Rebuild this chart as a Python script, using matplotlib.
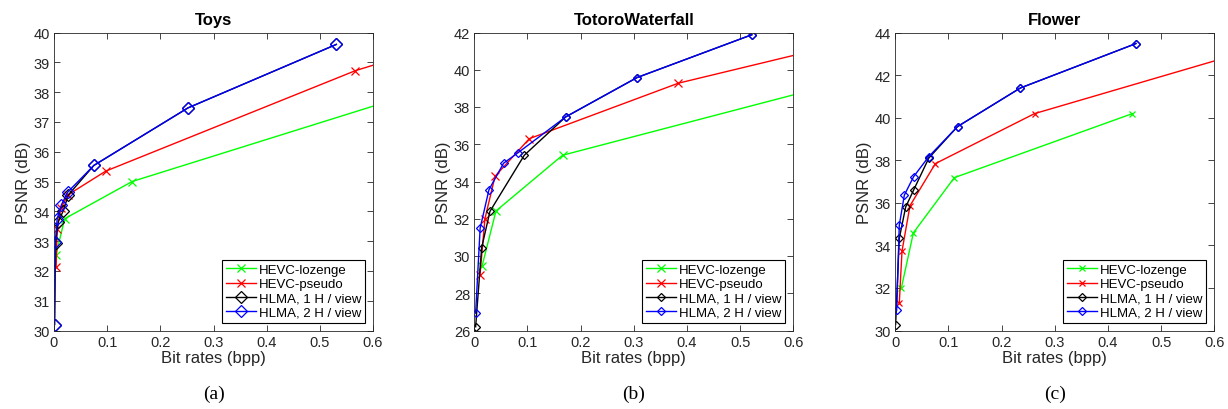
import matplotlib
matplotlib.use("Agg")
import matplotlib.pyplot as plt
import numpy as np
from matplotlib.ticker import FuncFormatter, MultipleLocator

plt.rcParams['font.family'] = ['Liberation Sans', 'DejaVu Sans']

series_names = ["HEVC-lozenge", "HEVC-pseudo", "HLMA, 1 H / view", "HLMA, 2 H / view"]
series_colors = ["#00ff00", "#ff0000", "#000000", "#0000ff"]
series_markers = ["x", "x", "D", "D"]

titles = ["Toys", "TotoroWaterfall", "Flower"]
captions = ["(a)", "(b)", "(c)"]

# Toys
toys_loz_x = [0.004, 0.02, 0.147, 0.9]
toys_loz_y = [32.55, 33.75, 35.0, 39.2]
toys_pse_x = [0.004, 0.006, 0.013, 0.026, 0.0975, 0.567, 1.0]
toys_pse_y = [32.13, 33.42, 34.1, 34.55, 35.35, 38.72, 41.1]
toys_h1_x = [0.001, 0.003, 0.008, 0.017, 0.027, 0.075, 0.252, 0.531]
toys_h1_y = [30.2, 32.95, 33.65, 34.0, 34.55, 35.54, 37.47, 39.6]
toys_h2_x = [0.001, 0.0025, 0.006, 0.014, 0.026, 0.075, 0.252, 0.531]
toys_h2_y = [30.2, 32.97, 33.75, 34.22, 34.65, 35.54, 37.47, 39.6]

# TotoroWaterfall
toto_loz_x = [0.0144, 0.0408, 0.166, 0.75]
toto_loz_y = [29.44, 32.42, 35.41, 39.77]
toto_pse_x = [0.0107, 0.02, 0.039, 0.1035, 0.384, 0.75]
toto_pse_y = [28.99, 32.0, 34.28, 36.3, 39.28, 41.8]
toto_h1_x = [0.0025, 0.0138, 0.0295, 0.094, 0.172, 0.306, 0.522]
toto_h1_y = [26.2, 30.44, 32.4, 35.41, 37.47, 39.58, 41.88]
toto_h2_x = [0.0025, 0.011, 0.0276, 0.055, 0.0815, 0.172, 0.306, 0.522]
toto_h2_y = [26.93, 31.5, 33.56, 34.98, 35.53, 37.47, 39.58, 41.88]

# Flower
flow_loz_x = [0.0113, 0.034, 0.111, 0.446]
flow_loz_y = [31.99, 34.59, 37.18, 40.19]
flow_pse_x = [0.0075, 0.0126, 0.0276, 0.0753, 0.262, 0.75]
flow_pse_y = [31.29, 33.73, 35.86, 37.84, 40.19, 43.76]
flow_h1_x = [0.0006, 0.0075, 0.0195, 0.0345, 0.063, 0.117, 0.235, 0.4526]
flow_h1_y = [30.28, 34.33, 35.8, 36.6, 38.1, 39.58, 41.39, 43.48]
flow_h2_x = [0.0025, 0.0075, 0.017, 0.0345, 0.063, 0.117, 0.235, 0.4526]
flow_h2_y = [30.94, 34.95, 36.36, 37.23, 38.17, 39.58, 41.39, 43.48]

panels = [
    [(toys_loz_x, toys_loz_y), (toys_pse_x, toys_pse_y), (toys_h1_x, toys_h1_y), (toys_h2_x, toys_h2_y)],
    [(toto_loz_x, toto_loz_y), (toto_pse_x, toto_pse_y), (toto_h1_x, toto_h1_y), (toto_h2_x, toto_h2_y)],
    [(flow_loz_x, flow_loz_y), (flow_pse_x, flow_pse_y), (flow_h1_x, flow_h1_y), (flow_h2_x, flow_h2_y)],
]
ylims = [(30, 40), (26, 42), (30, 44)]
ysteps = [1, 2, 2]
diamond_sizes = [6, 4.5, 4.5]
cross_sizes = [6, 5.5, 4.5]

fig = plt.figure(figsize=(12.28, 4.10), dpi=100)
lefts = [54 / 1228, 474.3 / 1228, 895.3 / 1228]
width = 319 / 1228
bottom = 1 - 331.5 / 410
height = 298 / 410

tick_col = "#262626"
for i in range(3):
    ax = fig.add_axes([lefts[i], bottom, width, height])
    for j in range(4):
        xs, ys = panels[i][j]
        ms = diamond_sizes[i] if series_markers[j] == "D" else cross_sizes[i]
        ax.plot(xs, ys, color=series_colors[j], marker=series_markers[j],
                markersize=ms, markerfacecolor="none", markeredgewidth=0.9,
                linewidth=1.0, label=series_names[j])
    ax.set_xlim(0, 0.6)
    ax.set_ylim(*ylims[i])
    ax.xaxis.set_major_locator(MultipleLocator(0.1))
    ax.yaxis.set_major_locator(MultipleLocator(ysteps[i]))
    ax.xaxis.set_major_formatter(FuncFormatter(lambda v, p: "0" if abs(v) < 1e-9 else f"{v:g}"))
    ax.tick_params(direction="in", top=True, right=True, length=4, width=0.6,
                   labelsize=10.5, colors=tick_col, pad=3)
    for s in ax.spines.values():
        s.set_color(tick_col)
        s.set_linewidth(0.6)
    ax.set_xlabel("Bit rates (bpp)", fontsize=12, color=tick_col, labelpad=1)
    ax.set_ylabel("PSNR (dB)", fontsize=12, color=tick_col, labelpad=2)
    ax.set_title(titles[i], fontsize=12, fontweight="bold", pad=6)
    leg = ax.legend(loc="lower right", fontsize=9.5, fancybox=False, framealpha=1,
                    edgecolor="black", borderpad=0.3, labelspacing=0.15,
                    handlelength=2.3, handletextpad=0.2, borderaxespad=0.6)
    leg.get_frame().set_linewidth(0.8)
    fig.text(lefts[i] + width / 2, 1 - 394 / 410, captions[i], ha="center", va="center",
             fontsize=14, family="Liberation Serif")

fig.savefig("out.png", dpi=100)
